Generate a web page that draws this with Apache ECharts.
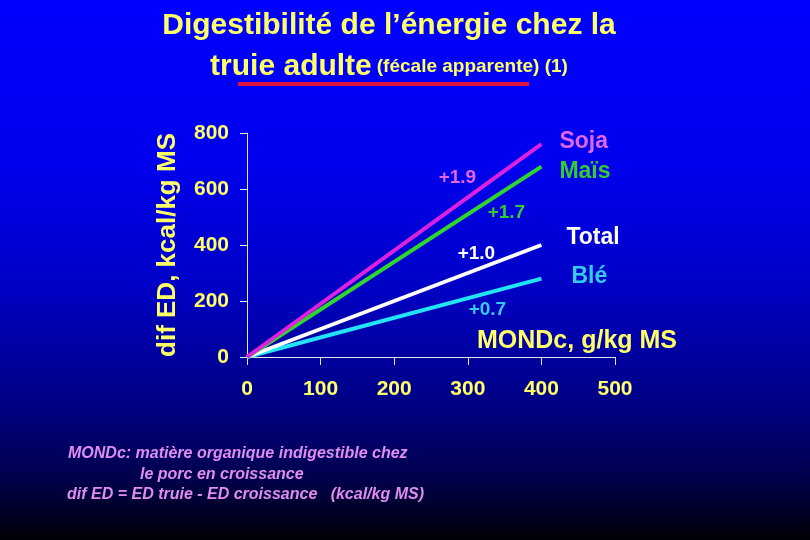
<!DOCTYPE html>
<html lang="fr">
<head>
    <meta charset="UTF-8">
    <title>Digestibilité de l'énergie chez la truie adulte</title>
    <script src="https://cdn.jsdelivr.net/npm/echarts@6/dist/echarts.min.js"></script>
    <style>
        html, body { margin: 0; padding: 0; width: 810px; height: 540px; overflow: hidden; }
        #container { width: 810px; height: 540px; }
    </style>
</head>
<body>
<div id="container"></div>
<script type="text/javascript">
    // données
    var names = ['Soja', 'Maïs', 'Total', 'Blé'];
    var slopes = ['+1.9', '+1.7', '+1.0', '+0.7'];
    var xEnd = [0, 400];
    var soja = [0, 760];
    var mais = [0, 680];
    var total = [0, 400];
    var ble = [0, 280];
    var xTicks = [0, 100, 200, 300, 400, 500];
    var yTicks = [0, 200, 400, 600, 800];

    var lineColors = ['#E020E0', '#2ED62E', '#FFFFFF', '#22E4F4'];
    var textColors = ['#E066E6', '#33CC33', '#FFFFFF', '#33CCEE'];
    // décalages des étiquettes par rapport au bout de la droite
    var slopeOffset = [[-84, 34], [-35, 46], [-65, 9], [-54, 31]];
    var nameOffset = [[18, -3], [18, 5], [25, -7], [30, -2]];

    var font = '"Liberation Sans", Arial, sans-serif';
    var yellow = '#FFFF66';

    function makeSeries(i, vals) {
        var pts = [];
        for (var k = 0; k < xEnd.length; k++) {
            pts.push([xEnd[k], vals[k]]);
        }
        var last = pts[pts.length - 1];
        return {
            name: names[i],
            type: 'line',
            data: pts,
            symbol: 'none',
            silent: true,
            z: 10 - i,
            lineStyle: { color: lineColors[i], width: 4 },
            endLabel: {
                show: true,
                formatter: '{a}',
                distance: 0,
                offset: nameOffset[i],
                color: textColors[i],
                fontFamily: font,
                fontWeight: 'bold',
                fontSize: 23
            },
            markPoint: {
                silent: true,
                symbol: 'circle',
                symbolSize: 0,
                data: [{ coord: last }],
                label: {
                    show: true,
                    position: 'inside',
                    formatter: slopes[i],
                    offset: slopeOffset[i],
                    color: textColors[i],
                    fontFamily: font,
                    fontWeight: 'bold',
                    fontSize: 19
                }
            }
        };
    }

    var dom = document.getElementById('container');
    var myChart = echarts.init(dom);
    var option = {
        animation: false,
        backgroundColor: {
            type: 'linear', x: 0, y: 0, x2: 0, y2: 1,
            colorStops: [
                { offset: 0, color: '#0000FF' },
                { offset: 0.3, color: '#0000EE' },
                { offset: 0.52, color: '#0000C8' },
                { offset: 0.76, color: '#000080' },
                { offset: 0.89, color: '#00004A' },
                { offset: 1, color: '#000005' }
            ]
        },
        title: {
            left: 389,
            top: 5,
            padding: 0,
            textAlign: 'center',
            text: '{a|Digestibilité de l’énergie chez la}\n{a|truie adulte} {b|(fécale apparente) (1)}',
            textStyle: {
                rich: {
                    a: { color: yellow, fontFamily: font, fontSize: 30, lineHeight: 41 },
                    b: { color: yellow, fontFamily: font, fontSize: 19, fontWeight: 'bold', lineHeight: 41 }
                }
            }
        },
        grid: { left: 247, right: 195, top: 133, bottom: 183 },
        xAxis: {
            type: 'value',
            min: xTicks[0],
            max: xTicks[xTicks.length - 1],
            interval: xTicks[1] - xTicks[0],
            name: 'MONDc, g/kg MS',
            nameLocation: 'end',
            nameGap: 62,
            nameTextStyle: {
                color: yellow, fontFamily: font, fontWeight: 'bold', fontSize: 25,
                align: 'right', verticalAlign: 'bottom', padding: [0, 0, 3, 0]
            },
            splitLine: { show: false },
            axisLine: { lineStyle: { color: '#E6E6E6', width: 1 } },
            axisTick: { show: true, length: 8, lineStyle: { color: '#E6E6E6' } },
            axisLabel: { color: yellow, fontFamily: font, fontWeight: 'bold', fontSize: 21, margin: 22 }
        },
        yAxis: {
            type: 'value',
            min: yTicks[0],
            max: yTicks[yTicks.length - 1],
            interval: yTicks[1] - yTicks[0],
            name: 'dif ED, kcal/kg MS',
            nameLocation: 'middle',
            nameRotate: 90,
            nameGap: 66,
            nameTextStyle: { color: yellow, fontFamily: font, fontWeight: 'bold', fontSize: 26 },
            splitLine: { show: false },
            axisLine: { show: true, lineStyle: { color: '#E6E6E6', width: 1 } },
            axisTick: { show: true, length: 7, lineStyle: { color: '#E6E6E6' } },
            axisLabel: { color: yellow, fontFamily: font, fontWeight: 'bold', fontSize: 21, margin: 18 }
        },
        graphic: [
            {
                type: 'rect',
                shape: { x: 238, y: 82, width: 291, height: 4 },
                style: { fill: '#E0143C' }
            },
            {
                type: 'text',
                left: 68,
                top: 446,
                style: {
                    text: 'MONDc: matière organique indigestible chez',
                    fill: '#E08CF0', font: 'italic bold 16px ' + font
                }
            },
            {
                type: 'text',
                left: 140,
                top: 467,
                style: {
                    text: 'le porc en croissance',
                    fill: '#E08CF0', font: 'italic bold 16px ' + font
                }
            },
            {
                type: 'text',
                left: 67,
                top: 487,
                style: {
                    text: 'dif ED = ED truie - ED croissance   (kcal/kg MS)',
                    fill: '#E08CF0', font: 'italic bold 16px ' + font
                }
            }
        ],
        series: [
            makeSeries(0, soja),
            makeSeries(1, mais),
            makeSeries(2, total),
            makeSeries(3, ble)
        ]
    };
    myChart.setOption(option);
</script>
</body>
</html>
